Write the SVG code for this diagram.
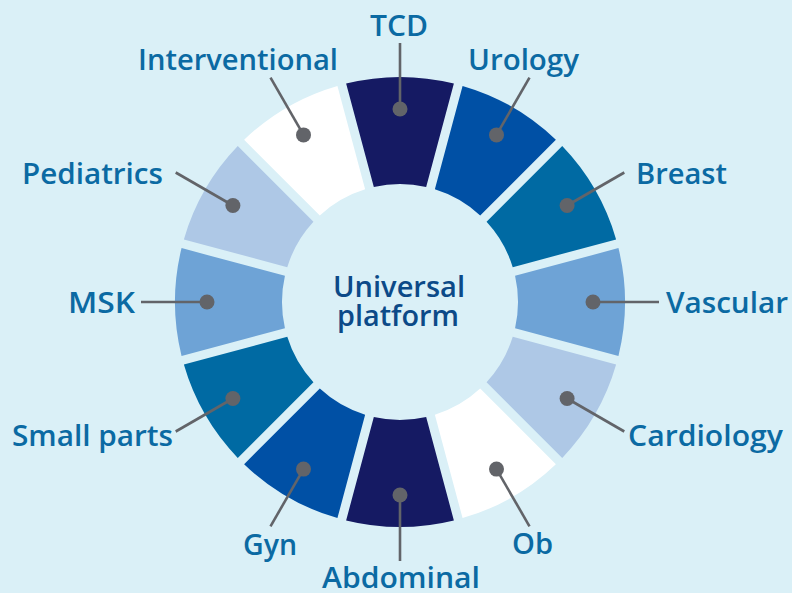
<svg xmlns="http://www.w3.org/2000/svg" xmlns:xlink="http://www.w3.org/1999/xlink" width="792" height="593" viewBox="0 0 792 593">
<style>
.lbl{font-family:"Open Sans","Liberation Sans",sans-serif;font-weight:600;font-size:28.5px;fill:#0b6aa3}
.ctr{font-family:"Open Sans","Liberation Sans",sans-serif;font-weight:600;font-size:28.5px;fill:#0c4a88}
.lead{stroke:#626469;stroke-width:2.6;fill:none}
.dot{fill:#626469}
.navy{fill:#151a63}.blue{fill:#0050a5}.teal{fill:#006aa3}.mid{fill:#6ea3d6}.light{fill:#aec8e6}.white{fill:#ffffff}
</style>
<defs>
<path id="seg" d="M -53.88 -218.45 A 225 225 0 0 1 53.88 -218.45 L 26.17 -115.06 A 118 118 0 0 0 -26.17 -115.06 Z"/>
</defs>
<rect width="792" height="593" fill="#daf0f7"/>
<g id="ring" transform="translate(400,302)">
<g id="seg-tcd"><use xlink:href="#seg" class="navy" transform="rotate(0)"/></g>
<g id="seg-urology"><use xlink:href="#seg" class="blue" transform="rotate(30)"/></g>
<g id="seg-breast"><use xlink:href="#seg" class="teal" transform="rotate(60)"/></g>
<g id="seg-vascular"><use xlink:href="#seg" class="mid" transform="rotate(90)"/></g>
<g id="seg-cardiology"><use xlink:href="#seg" class="light" transform="rotate(120)"/></g>
<g id="seg-ob"><use xlink:href="#seg" class="white" transform="rotate(150)"/></g>
<g id="seg-abdominal"><use xlink:href="#seg" class="navy" transform="rotate(180)"/></g>
<g id="seg-gyn"><use xlink:href="#seg" class="blue" transform="rotate(210)"/></g>
<g id="seg-smallparts"><use xlink:href="#seg" class="teal" transform="rotate(240)"/></g>
<g id="seg-msk"><use xlink:href="#seg" class="mid" transform="rotate(270)"/></g>
<g id="seg-pediatrics"><use xlink:href="#seg" class="light" transform="rotate(300)"/></g>
<g id="seg-interventional"><use xlink:href="#seg" class="white" transform="rotate(330)"/></g>
</g>
<g id="center">
<text class="ctr" x="333" y="297" textLength="132" lengthAdjust="spacingAndGlyphs">Universal</text>
<text class="ctr" x="337" y="326" textLength="122" lengthAdjust="spacingAndGlyphs">platform</text>
</g>
<g id="connectors">
<line class="lead" x1="400" y1="109" x2="400" y2="43"/>
<line class="lead" x1="496.5" y1="134.9" x2="529.5" y2="77.7"/>
<line class="lead" x1="567.1" y1="205.5" x2="624.3" y2="172.5"/>
<line class="lead" x1="593" y1="302" x2="659" y2="302"/>
<line class="lead" x1="567.1" y1="398.5" x2="624.3" y2="431.5"/>
<line class="lead" x1="496.5" y1="469.1" x2="529.5" y2="526.3"/>
<line class="lead" x1="400" y1="495" x2="400" y2="561"/>
<line class="lead" x1="303.5" y1="469.1" x2="270.5" y2="526.3"/>
<line class="lead" x1="232.9" y1="398.5" x2="175.7" y2="431.5"/>
<line class="lead" x1="207" y1="302" x2="141" y2="302"/>
<line class="lead" x1="232.9" y1="205.5" x2="175.7" y2="172.5"/>
<line class="lead" x1="303.5" y1="134.9" x2="270.5" y2="77.7"/>
</g>
<g id="node-tcd"><circle class="dot" cx="400" cy="109" r="7.5"/><text class="lbl" x="370" y="36" textLength="58" lengthAdjust="spacingAndGlyphs">TCD</text></g>
<g id="node-urology"><circle class="dot" cx="496.5" cy="134.9" r="7.5"/><text class="lbl" x="468" y="70" textLength="111" lengthAdjust="spacingAndGlyphs">Urology</text></g>
<g id="node-breast"><circle class="dot" cx="567.1" cy="205.5" r="7.5"/><text class="lbl" x="636" y="184" textLength="91" lengthAdjust="spacingAndGlyphs">Breast</text></g>
<g id="node-vascular"><circle class="dot" cx="593" cy="302" r="7.5"/><text class="lbl" x="666" y="313" textLength="122" lengthAdjust="spacingAndGlyphs">Vascular</text></g>
<g id="node-cardiology"><circle class="dot" cx="567.1" cy="398.5" r="7.5"/><text class="lbl" x="628" y="446" textLength="155" lengthAdjust="spacingAndGlyphs">Cardiology</text></g>
<g id="node-ob"><circle class="dot" cx="496.5" cy="469.1" r="7.5"/><text class="lbl" x="512" y="554" textLength="41" lengthAdjust="spacingAndGlyphs">Ob</text></g>
<g id="node-abdominal"><circle class="dot" cx="400" cy="495" r="7.5"/><text class="lbl" x="322" y="588" textLength="158" lengthAdjust="spacingAndGlyphs">Abdominal</text></g>
<g id="node-gyn"><circle class="dot" cx="303.5" cy="469.1" r="7.5"/><text class="lbl" x="243" y="555" textLength="54" lengthAdjust="spacingAndGlyphs">Gyn</text></g>
<g id="node-smallparts"><circle class="dot" cx="232.9" cy="398.5" r="7.5"/><text class="lbl" x="12" y="446" textLength="161" lengthAdjust="spacingAndGlyphs">Small parts</text></g>
<g id="node-msk"><circle class="dot" cx="207" cy="302" r="7.5"/><text class="lbl" x="68" y="313" textLength="67" lengthAdjust="spacingAndGlyphs">MSK</text></g>
<g id="node-pediatrics"><circle class="dot" cx="232.9" cy="205.5" r="7.5"/><text class="lbl" x="22" y="184" textLength="141" lengthAdjust="spacingAndGlyphs">Pediatrics</text></g>
<g id="node-interventional"><circle class="dot" cx="303.5" cy="134.9" r="7.5"/><text class="lbl" x="138" y="70" textLength="200" lengthAdjust="spacingAndGlyphs">Interventional</text></g>
</svg>
